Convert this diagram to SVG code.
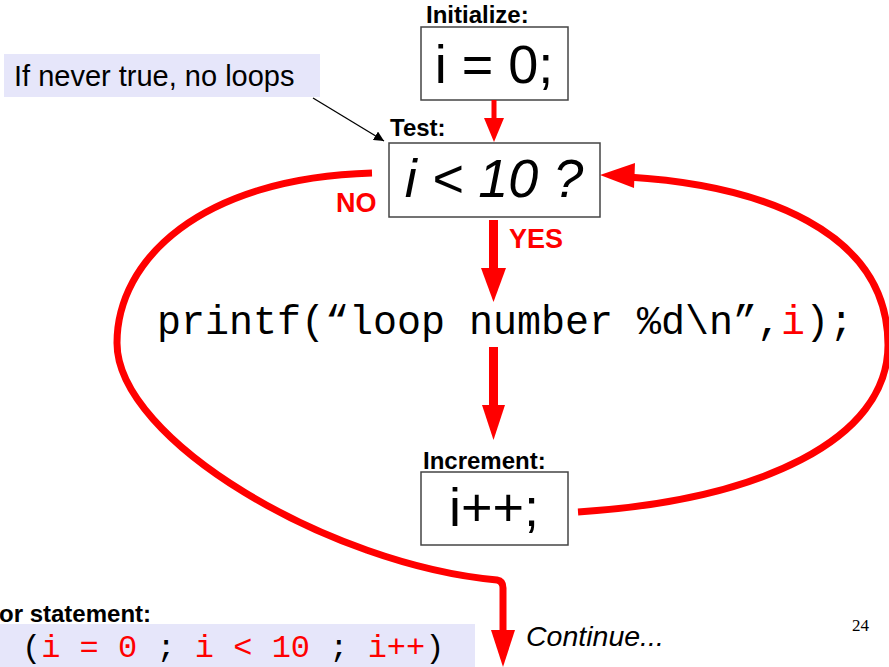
<svg xmlns="http://www.w3.org/2000/svg" width="889" height="667" viewBox="0 0 889 667">
<style>
.box{fill:#fff;stroke:#444;stroke-width:1.5}
.lbl{font-family:"Liberation Sans",Arial,sans-serif;font-weight:bold;font-size:24px;fill:#000}
.big{font-family:"Liberation Sans",Arial,sans-serif;font-size:54px;fill:#000;text-anchor:middle}
.red{fill:#ff0000}
.redlbl{font-family:"Liberation Sans",Arial,sans-serif;font-weight:bold;font-size:27px;fill:#ff0000}
.mono{font-family:"Liberation Mono","Courier New",monospace;fill:#000}
.loop{fill:none;stroke:#ff0000;stroke-width:7}
.note{fill:#e6e6fa}
</style>
<defs>
<marker id="blk" viewBox="0 0 10 10" refX="10" refY="5" markerWidth="10" markerHeight="10" markerUnits="userSpaceOnUse" orient="auto">
<path d="M0,0 L10,5 L0,10 z" fill="#000"/>
</marker>
</defs>

<g id="callout">
<rect class="note" x="4" y="54" width="316" height="43"/>
<text x="14" y="86" font-family="Liberation Sans, Arial, sans-serif" font-size="29">If never true, no loops</text>
</g>

<g id="init">
<text class="lbl" x="426" y="23">Initialize:</text>
<rect class="box" x="421" y="27" width="147" height="73"/>
<text class="big" x="494" y="83" font-size="56">i = 0;</text>
</g>

<g id="test">
<text class="lbl" x="390" y="136">Test:</text>
<rect class="box" x="389" y="143" width="211" height="74"/>
<text class="big" x="494" y="197" font-style="italic">i &lt; 10 ?</text>
</g>

<g id="printf">
<text class="mono" x="157" y="334" font-size="40">printf(“loop number %d\n”,<tspan fill="#ff0000">i</tspan>);</text>
</g>

<g id="increment">
<text class="lbl" x="423" y="469">Increment:</text>
<rect class="box" x="421" y="472" width="147" height="73"/>
<text class="big" x="494" y="526" font-size="52">i++;</text>
</g>

<g id="forstmt">
<text class="lbl" x="-1" y="622">or statement:</text>
<rect class="note" x="0" y="624" width="475" height="43"/>
<text class="mono" x="22" y="657" font-size="32">(<tspan fill="#ff0000">i = 0</tspan> ; <tspan fill="#ff0000">i &lt; 10</tspan> ; <tspan fill="#ff0000">i++</tspan>)</text>
</g>

<g id="continue">
<text x="526" y="646" font-family="Liberation Sans, Arial, sans-serif" font-style="italic" font-size="28.5">Continue...</text>
</g>

<g id="pagenum">
<text x="852" y="631" font-family="Liberation Serif, Times New Roman, serif" font-size="17">24</text>
</g>

<g id="connectors">
<line x1="313" y1="98" x2="384" y2="141" stroke="#000" stroke-width="1.3" marker-end="url(#blk)"/>
<rect class="red" x="491.5" y="100" width="5" height="20"/>
<polygon class="red" points="484,118 504,118 494,142"/>
<rect class="red" x="489" y="220" width="9" height="50"/>
<polygon class="red" points="481,268 506,268 493.5,302"/>
<text class="redlbl" x="336" y="212">NO</text>
<text class="redlbl" x="509" y="248">YES</text>
<rect class="red" x="489" y="347" width="9" height="60"/>
<polygon class="red" points="482,405 505,405 493.5,440"/>
<path class="loop" d="M372,173 C200,178 117,260 117,343 C117,440 330,565 497,580 Q503,581 503,588 L503,632"/>
<polygon class="red" points="491,630 515,630 503,667"/>
<path class="loop" d="M578,512 C760,500 888,440 888,345 C888,230 760,185 628,177"/>
<polygon class="red" points="600,175 635,163 634,188"/>
</g>
</svg>
